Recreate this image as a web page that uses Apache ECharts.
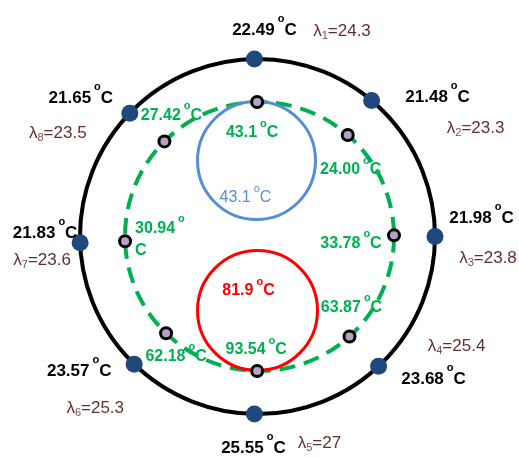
<!DOCTYPE html>
<html>
<head>
<meta charset="utf-8">
<script src="https://cdn.jsdelivr.net/npm/echarts@6/dist/echarts.min.js"></script>
<style>html,body{margin:0;padding:0;background:#fff}#c{width:519px;height:457px}</style>
</head>
<body>
<div id="c"></div>
<script>
// ---------- data ----------
const outerTemps = ['22.49', '21.48', '21.98', '23.68', '25.55', '23.57', '21.83', '21.65'];
const lambdaIdx = ['1', '2', '3', '4', '5', '6', '7', '8'];
const lambdaVals = ['24.3', '23.3', '23.8', '25.4', '27', '25.3', '23.6', '23.5'];
const innerTemps = ['43.1', '24.00', '33.78', '63.87', '93.54', '62.18', '30.94', '27.42'];
const coldTemp = '43.1';
const hotTemp = '81.9';

// ---------- layout (geometry, not data) ----------
const OUTER_R = 177.5;
const outerAngles = [91, 50, 0, -47, -91, -134, 182, 136];
const INNER_C = [2, 0];
const INNER_R = 134.5;
const innerAngles = [91, 49, 0.5, -48, -91, -134, 182, 135];
const circles = [
  {c: [0, 0], r: OUTER_R, color: '#000000', width: 4, dash: null},
  {c: INNER_C, r: INNER_R, color: '#00B050', width: 4, dash: [16, 9]},
  {c: [-1, 76], r: 59, color: '#558ED5', width: 3, dash: null},
  {c: [0, -74], r: 60, color: '#FF0000', width: 3, dash: null}
];
const tempOffsets = [[10, -29], [66, -3.5], [46.5, -18.5], [55, 12.7], [-1, 34], [-55, 7], [-35, -9], [-49, -15]];
const lambdaOffsets = [[87.6, -28], [104, 27.5], [53, 21.5], [78, -20], [65, 29], [-39, 44], [-38, 18], [-72, 20]];
const innerOffsets = [[-5, 31], [3, 35], [-43, 8], [2, -28.5], [-1, -21], [10, 23], [10, -6], [7, -26]];
const circleLabelOffsets = [[-11, 37.5], [-9, -19.5]];

const FONT = 'Liberation Sans, Arial, sans-serif';
const rad = a => a * Math.PI / 180;
const outerPts = outerAngles.map(a => [OUTER_R * Math.cos(rad(a)), OUTER_R * Math.sin(rad(a))]);
const innerPts = innerAngles.map(a => [INNER_C[0] + INNER_R * Math.cos(rad(a)), INNER_C[1] + INNER_R * Math.sin(rad(a))]);

const degRich = (color, size, lh, degLh) => ({
  n: {fontFamily: FONT, fontSize: size, fontWeight: 'bold', color: color, lineHeight: lh},
  d: {fontFamily: FONT, fontSize: 11, fontWeight: 'bold', color: color, lineHeight: degLh, verticalAlign: 'top', padding: [0, 0, 0, 3]},
  c2: {fontFamily: FONT, fontSize: size, fontWeight: 'bold', color: color, lineHeight: 14}
});
const degText = v => '{n|' + v + '}{d|o}{n|C}';

const chart = echarts.init(document.getElementById('c'));
chart.setOption({
  animation: false,
  backgroundColor: '#ffffff',
  grid: {left: 0, right: 0, top: 0, bottom: 0},
  xAxis: {type: 'value', min: -257.5, max: 261.5, show: false},
  yAxis: {type: 'value', min: -220.5, max: 236.5, show: false},
  series: [
    {
      type: 'custom',
      silent: true,
      encode: {x: 0, y: 1},
      data: circles.map(c => [c.c[0], c.c[1], c.r]),
      renderItem: function (params, api) {
        const s = circles[params.dataIndex];
        const p = api.coord([api.value(0), api.value(1)]);
        const r = api.size([api.value(2), 0])[0];
        return {
          type: 'circle',
          shape: {cx: p[0], cy: p[1], r: r},
          style: {fill: 'none', stroke: s.color, lineWidth: s.width, lineDash: s.dash}
        };
      },
      z: 1
    },
    {
      type: 'scatter',
      silent: true,
      symbolSize: 1,
      itemStyle: {color: 'rgba(0,0,0,0)', opacity: 1},
      emphasis: {disabled: true},
      data: circles.slice(2).map((c, i) => ({value: c.c, label: {offset: circleLabelOffsets[i]}})),
      label: {
        show: true, position: 'inside', opacity: 1,
        formatter: p => p.dataIndex === 0 ? '{b|' + coldTemp + '}{bd|o}{b|C}' : '{r|' + hotTemp + '}{rd|o}{r|C}',
        rich: {
          b: {fontFamily: FONT, fontSize: 16, color: '#558ED5', lineHeight: 30},
          bd: {fontFamily: FONT, fontSize: 11, color: '#558ED5', lineHeight: 4, verticalAlign: 'top', padding: [0, 0, 0, 3]},
          r: {fontFamily: FONT, fontSize: 16, fontWeight: 'bold', color: '#FF0000', lineHeight: 30},
          rd: {fontFamily: FONT, fontSize: 11, fontWeight: 'bold', color: '#FF0000', lineHeight: 4, verticalAlign: 'top', padding: [0, 0, 0, 3]}
        }
      },
      z: 3
    },
    {
      type: 'scatter',
      silent: true,
      symbol: 'circle',
      symbolSize: 17,
      itemStyle: {color: '#1F497D', opacity: 1},
      emphasis: {disabled: true},
      data: outerPts.map((p, i) => ({value: p, label: {offset: tempOffsets[i]}})),
      label: {
        show: true, position: 'inside', opacity: 1,
        formatter: p => degText(outerTemps[p.dataIndex]),
        rich: degRich('#000000', 17, 34, 4)
      },
      z: 4
    },
    {
      type: 'scatter',
      silent: true,
      symbolSize: 1,
      itemStyle: {color: 'rgba(0,0,0,0)', opacity: 1},
      emphasis: {disabled: true},
      data: outerPts.map((p, i) => ({value: p, label: {offset: lambdaOffsets[i]}})),
      label: {
        show: true, position: 'inside', opacity: 1,
        formatter: p => '{l|λ}{s|' + lambdaIdx[p.dataIndex] + '}{l|=' + lambdaVals[p.dataIndex] + '}',
        rich: {
          l: {fontFamily: FONT, fontSize: 17, color: '#632E2E', lineHeight: 20},
          s: {fontFamily: FONT, fontSize: 11, color: '#7E4A4A', lineHeight: 14, verticalAlign: 'bottom'}
        }
      },
      z: 4
    },
    {
      type: 'scatter',
      silent: true,
      symbol: 'circle',
      symbolSize: 11,
      itemStyle: {color: '#B3A2C7', borderColor: '#000000', borderWidth: 3, opacity: 1},
      emphasis: {disabled: true},
      data: innerPts.map((p, i) => ({
        value: p,
        label: i === 6 ? {offset: innerOffsets[i], align: 'left'} : {offset: innerOffsets[i]}
      })),
      label: {
        show: true, position: 'inside', opacity: 1,
        formatter: p => p.dataIndex === 6
          ? '{n|' + innerTemps[6] + '}{d|o}\n{c2|C}'
          : degText(innerTemps[p.dataIndex]),
        rich: degRich('#00B050', 16, 30, 4)
      },
      z: 5
    }
  ]
});
</script>
</body>
</html>
